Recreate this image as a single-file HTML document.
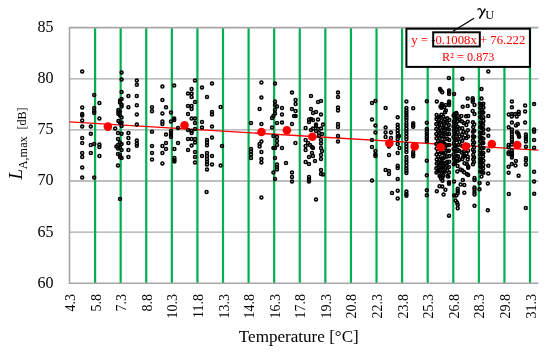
<!DOCTYPE html><html><head><meta charset="utf-8"><style>html,body{margin:0;padding:0;background:#fff;width:550px;height:353px;overflow:hidden}svg{display:block;will-change:transform}</style></head><body>
<svg width="550" height="353" viewBox="0 0 550 353" font-family="Liberation Serif, serif">
<path d="M69.50 232.10H538.4 M69.50 181.00H538.4 M69.50 129.90H538.4 M69.50 78.80H538.4" stroke="#a9a9a9" stroke-width="1.35" fill="none"/>
<path d="M95.09 27.60V283.20 M120.67 27.60V283.20 M146.25 27.60V283.20 M171.84 27.60V283.20 M197.43 27.60V283.20 M223.01 27.60V283.20 M248.59 27.60V283.20 M274.18 27.60V283.20 M299.76 27.60V283.20 M325.35 27.60V283.20 M350.94 27.60V283.20 M376.52 27.60V283.20 M402.11 27.60V283.20 M427.69 27.60V283.20 M453.28 27.60V283.20 M478.86 27.60V283.20 M504.44 27.60V283.20 M530.03 27.60V283.20" stroke="#00b050" stroke-width="2.2" fill="none"/>
<path d="M538.4 27.6H69.5V283.2H538.4" stroke="#a6a6a6" stroke-width="1.6" fill="none"/>
<line x1="69.5" y1="121.84" x2="538.4" y2="150.16" stroke="#ff0000" stroke-width="1.3"/>
<g fill="none" stroke="#000" stroke-width="1.6"><circle cx="82.2" cy="71.4" r="1.45"/><circle cx="121.6" cy="72.4" r="1.45"/><circle cx="121.6" cy="79.6" r="1.45"/><circle cx="136.8" cy="80.6" r="1.45"/><circle cx="136.8" cy="84.8" r="1.45"/><circle cx="162.4" cy="86.6" r="1.45"/><circle cx="174.2" cy="85.6" r="1.45"/><circle cx="94.2" cy="95.0" r="1.45"/><circle cx="121.6" cy="92.0" r="1.45"/><circle cx="128.4" cy="96.0" r="1.45"/><circle cx="136.8" cy="96.0" r="1.45"/><circle cx="121.6" cy="99.0" r="1.45"/><circle cx="120.0" cy="100.6" r="1.45"/><circle cx="120.0" cy="102.4" r="1.45"/><circle cx="121.6" cy="104.4" r="1.45"/><circle cx="121.6" cy="106.4" r="1.45"/><circle cx="99.4" cy="103.0" r="1.45"/><circle cx="162.4" cy="100.0" r="1.45"/><circle cx="82.2" cy="107.4" r="1.45"/><circle cx="94.2" cy="108.0" r="1.45"/><circle cx="94.2" cy="111.0" r="1.45"/><circle cx="94.2" cy="113.0" r="1.45"/><circle cx="128.4" cy="107.2" r="1.45"/><circle cx="136.8" cy="105.2" r="1.45"/><circle cx="152.0" cy="107.2" r="1.45"/><circle cx="152.0" cy="111.2" r="1.45"/><circle cx="166.0" cy="107.2" r="1.45"/><circle cx="162.4" cy="113.4" r="1.45"/><circle cx="171.0" cy="112.4" r="1.45"/><circle cx="82.2" cy="114.0" r="1.45"/><circle cx="82.2" cy="115.6" r="1.45"/><circle cx="82.2" cy="120.4" r="1.45"/><circle cx="118.4" cy="110.0" r="1.45"/><circle cx="118.4" cy="112.0" r="1.45"/><circle cx="118.4" cy="114.0" r="1.45"/><circle cx="120.0" cy="111.6" r="1.45"/><circle cx="120.0" cy="115.6" r="1.45"/><circle cx="121.6" cy="117.4" r="1.45"/><circle cx="99.4" cy="118.4" r="1.45"/><circle cx="136.8" cy="114.4" r="1.45"/><circle cx="162.4" cy="121.4" r="1.45"/><circle cx="162.4" cy="124.0" r="1.45"/><circle cx="171.0" cy="121.4" r="1.45"/><circle cx="174.2" cy="118.4" r="1.45"/><circle cx="174.2" cy="120.0" r="1.45"/><circle cx="118.4" cy="121.0" r="1.45"/><circle cx="120.0" cy="122.4" r="1.45"/><circle cx="121.6" cy="122.4" r="1.45"/><circle cx="82.2" cy="126.6" r="1.45"/><circle cx="90.8" cy="126.6" r="1.45"/><circle cx="115.2" cy="128.4" r="1.45"/><circle cx="121.6" cy="126.0" r="1.45"/><circle cx="136.8" cy="124.6" r="1.45"/><circle cx="178.0" cy="128.0" r="1.45"/><circle cx="90.8" cy="133.8" r="1.45"/><circle cx="118.0" cy="133.0" r="1.45"/><circle cx="121.6" cy="133.8" r="1.45"/><circle cx="128.4" cy="133.0" r="1.45"/><circle cx="152.0" cy="131.8" r="1.45"/><circle cx="166.0" cy="134.6" r="1.45"/><circle cx="171.0" cy="131.0" r="1.45"/><circle cx="171.0" cy="133.0" r="1.45"/><circle cx="171.0" cy="135.0" r="1.45"/><circle cx="171.0" cy="137.0" r="1.45"/><circle cx="82.2" cy="138.0" r="1.45"/><circle cx="82.2" cy="143.0" r="1.45"/><circle cx="118.0" cy="139.0" r="1.45"/><circle cx="128.4" cy="138.0" r="1.45"/><circle cx="136.8" cy="140.6" r="1.45"/><circle cx="136.8" cy="143.4" r="1.45"/><circle cx="136.8" cy="145.8" r="1.45"/><circle cx="90.8" cy="145.0" r="1.45"/><circle cx="94.2" cy="144.0" r="1.45"/><circle cx="99.4" cy="144.6" r="1.45"/><circle cx="99.4" cy="147.0" r="1.45"/><circle cx="120.0" cy="142.6" r="1.45"/><circle cx="118.0" cy="145.0" r="1.45"/><circle cx="116.4" cy="146.6" r="1.45"/><circle cx="121.6" cy="144.0" r="1.45"/><circle cx="120.0" cy="147.4" r="1.45"/><circle cx="118.0" cy="148.6" r="1.45"/><circle cx="121.6" cy="150.0" r="1.45"/><circle cx="128.4" cy="143.0" r="1.45"/><circle cx="152.0" cy="146.0" r="1.45"/><circle cx="162.4" cy="146.0" r="1.45"/><circle cx="166.0" cy="143.0" r="1.45"/><circle cx="178.0" cy="143.0" r="1.45"/><circle cx="166.0" cy="149.0" r="1.45"/><circle cx="174.4" cy="149.0" r="1.45"/><circle cx="82.2" cy="153.0" r="1.45"/><circle cx="82.2" cy="157.0" r="1.45"/><circle cx="90.8" cy="153.0" r="1.45"/><circle cx="99.4" cy="156.0" r="1.45"/><circle cx="118.0" cy="154.0" r="1.45"/><circle cx="120.0" cy="155.0" r="1.45"/><circle cx="120.0" cy="157.0" r="1.45"/><circle cx="121.6" cy="158.0" r="1.45"/><circle cx="128.4" cy="150.0" r="1.45"/><circle cx="128.4" cy="157.0" r="1.45"/><circle cx="152.0" cy="153.0" r="1.45"/><circle cx="152.0" cy="159.4" r="1.45"/><circle cx="162.4" cy="153.0" r="1.45"/><circle cx="174.4" cy="158.0" r="1.45"/><circle cx="174.4" cy="160.0" r="1.45"/><circle cx="174.4" cy="161.6" r="1.45"/><circle cx="162.4" cy="163.4" r="1.45"/><circle cx="118.0" cy="165.4" r="1.45"/><circle cx="82.2" cy="167.4" r="1.45"/><circle cx="82.2" cy="177.6" r="1.45"/><circle cx="94.2" cy="177.6" r="1.45"/><circle cx="120.0" cy="199.0" r="1.45"/><circle cx="195.0" cy="80.4" r="1.45"/><circle cx="191.6" cy="89.0" r="1.45"/><circle cx="202.0" cy="87.6" r="1.45"/><circle cx="212.0" cy="83.6" r="1.45"/><circle cx="188.0" cy="93.6" r="1.45"/><circle cx="191.6" cy="93.6" r="1.45"/><circle cx="191.6" cy="97.0" r="1.45"/><circle cx="207.0" cy="97.0" r="1.45"/><circle cx="195.0" cy="102.0" r="1.45"/><circle cx="188.0" cy="106.0" r="1.45"/><circle cx="191.6" cy="106.0" r="1.45"/><circle cx="191.6" cy="109.0" r="1.45"/><circle cx="220.6" cy="107.0" r="1.45"/><circle cx="212.0" cy="112.0" r="1.45"/><circle cx="212.0" cy="114.6" r="1.45"/><circle cx="188.0" cy="114.0" r="1.45"/><circle cx="191.6" cy="118.6" r="1.45"/><circle cx="195.0" cy="118.6" r="1.45"/><circle cx="195.0" cy="123.0" r="1.45"/><circle cx="202.0" cy="122.0" r="1.45"/><circle cx="261.4" cy="82.4" r="1.45"/><circle cx="275.0" cy="83.6" r="1.45"/><circle cx="261.4" cy="97.6" r="1.45"/><circle cx="259.6" cy="109.0" r="1.45"/><circle cx="275.0" cy="101.4" r="1.45"/><circle cx="275.0" cy="105.0" r="1.45"/><circle cx="277.0" cy="106.4" r="1.45"/><circle cx="282.0" cy="108.0" r="1.45"/><circle cx="275.0" cy="110.0" r="1.45"/><circle cx="275.0" cy="113.4" r="1.45"/><circle cx="282.0" cy="114.4" r="1.45"/><circle cx="273.4" cy="116.0" r="1.45"/><circle cx="272.0" cy="118.0" r="1.45"/><circle cx="251.0" cy="123.0" r="1.45"/><circle cx="261.4" cy="124.0" r="1.45"/><circle cx="277.0" cy="123.0" r="1.45"/><circle cx="282.0" cy="122.6" r="1.45"/><circle cx="202.0" cy="127.6" r="1.45"/><circle cx="212.0" cy="126.6" r="1.45"/><circle cx="188.0" cy="130.0" r="1.45"/><circle cx="191.6" cy="131.0" r="1.45"/><circle cx="195.0" cy="129.0" r="1.45"/><circle cx="191.6" cy="133.0" r="1.45"/><circle cx="188.0" cy="139.0" r="1.45"/><circle cx="191.6" cy="139.0" r="1.45"/><circle cx="195.0" cy="139.0" r="1.45"/><circle cx="195.0" cy="142.4" r="1.45"/><circle cx="191.6" cy="145.6" r="1.45"/><circle cx="207.0" cy="140.0" r="1.45"/><circle cx="207.0" cy="142.6" r="1.45"/><circle cx="207.0" cy="145.2" r="1.45"/><circle cx="212.0" cy="137.6" r="1.45"/><circle cx="188.0" cy="150.0" r="1.45"/><circle cx="195.0" cy="152.0" r="1.45"/><circle cx="222.0" cy="146.0" r="1.45"/><circle cx="207.0" cy="153.0" r="1.45"/><circle cx="207.0" cy="156.0" r="1.45"/><circle cx="207.0" cy="159.0" r="1.45"/><circle cx="207.0" cy="162.0" r="1.45"/><circle cx="207.0" cy="164.4" r="1.45"/><circle cx="202.0" cy="156.0" r="1.45"/><circle cx="212.0" cy="156.0" r="1.45"/><circle cx="195.0" cy="157.0" r="1.45"/><circle cx="195.0" cy="162.4" r="1.45"/><circle cx="212.0" cy="164.4" r="1.45"/><circle cx="207.0" cy="169.4" r="1.45"/><circle cx="220.6" cy="165.6" r="1.45"/><circle cx="272.0" cy="127.6" r="1.45"/><circle cx="273.4" cy="136.0" r="1.45"/><circle cx="277.0" cy="137.0" r="1.45"/><circle cx="261.4" cy="141.6" r="1.45"/><circle cx="259.6" cy="144.0" r="1.45"/><circle cx="259.6" cy="146.6" r="1.45"/><circle cx="277.0" cy="141.0" r="1.45"/><circle cx="277.0" cy="145.0" r="1.45"/><circle cx="282.0" cy="148.0" r="1.45"/><circle cx="273.4" cy="148.0" r="1.45"/><circle cx="275.0" cy="148.0" r="1.45"/><circle cx="251.0" cy="149.0" r="1.45"/><circle cx="251.0" cy="151.6" r="1.45"/><circle cx="251.0" cy="154.4" r="1.45"/><circle cx="251.0" cy="158.0" r="1.45"/><circle cx="261.4" cy="152.0" r="1.45"/><circle cx="261.4" cy="159.0" r="1.45"/><circle cx="261.4" cy="162.4" r="1.45"/><circle cx="275.0" cy="158.0" r="1.45"/><circle cx="277.0" cy="164.4" r="1.45"/><circle cx="277.0" cy="167.0" r="1.45"/><circle cx="277.0" cy="169.6" r="1.45"/><circle cx="273.4" cy="172.6" r="1.45"/><circle cx="275.0" cy="179.0" r="1.45"/><circle cx="206.6" cy="192.0" r="1.45"/><circle cx="261.4" cy="197.4" r="1.45"/><circle cx="292.0" cy="92.6" r="1.45"/><circle cx="295.6" cy="100.0" r="1.45"/><circle cx="295.6" cy="104.0" r="1.45"/><circle cx="292.0" cy="109.0" r="1.45"/><circle cx="295.6" cy="111.0" r="1.45"/><circle cx="294.0" cy="116.0" r="1.45"/><circle cx="295.6" cy="116.0" r="1.45"/><circle cx="311.0" cy="96.0" r="1.45"/><circle cx="318.0" cy="102.0" r="1.45"/><circle cx="321.0" cy="101.0" r="1.45"/><circle cx="311.0" cy="109.0" r="1.45"/><circle cx="313.0" cy="113.0" r="1.45"/><circle cx="316.0" cy="112.0" r="1.45"/><circle cx="321.0" cy="114.4" r="1.45"/><circle cx="309.0" cy="119.4" r="1.45"/><circle cx="311.0" cy="119.0" r="1.45"/><circle cx="313.0" cy="120.0" r="1.45"/><circle cx="309.0" cy="122.0" r="1.45"/><circle cx="318.0" cy="119.4" r="1.45"/><circle cx="292.0" cy="124.0" r="1.45"/><circle cx="316.0" cy="124.6" r="1.45"/><circle cx="323.0" cy="124.6" r="1.45"/><circle cx="338.0" cy="92.6" r="1.45"/><circle cx="338.0" cy="97.0" r="1.45"/><circle cx="338.0" cy="107.4" r="1.45"/><circle cx="338.0" cy="110.4" r="1.45"/><circle cx="338.0" cy="124.0" r="1.45"/><circle cx="372.0" cy="103.0" r="1.45"/><circle cx="375.4" cy="101.0" r="1.45"/><circle cx="385.6" cy="108.0" r="1.45"/><circle cx="372.0" cy="119.4" r="1.45"/><circle cx="338.0" cy="127.0" r="1.45"/><circle cx="305.6" cy="128.0" r="1.45"/><circle cx="311.0" cy="130.0" r="1.45"/><circle cx="313.0" cy="128.4" r="1.45"/><circle cx="316.0" cy="126.0" r="1.45"/><circle cx="318.0" cy="129.0" r="1.45"/><circle cx="321.0" cy="128.4" r="1.45"/><circle cx="316.0" cy="131.0" r="1.45"/><circle cx="319.0" cy="133.0" r="1.45"/><circle cx="322.0" cy="134.0" r="1.45"/><circle cx="319.0" cy="136.0" r="1.45"/><circle cx="338.0" cy="136.0" r="1.45"/><circle cx="295.4" cy="143.0" r="1.45"/><circle cx="305.6" cy="140.0" r="1.45"/><circle cx="308.0" cy="143.0" r="1.45"/><circle cx="310.0" cy="145.0" r="1.45"/><circle cx="305.6" cy="146.0" r="1.45"/><circle cx="305.6" cy="150.0" r="1.45"/><circle cx="312.0" cy="147.0" r="1.45"/><circle cx="313.0" cy="148.0" r="1.45"/><circle cx="321.0" cy="140.0" r="1.45"/><circle cx="321.0" cy="143.6" r="1.45"/><circle cx="338.0" cy="141.6" r="1.45"/><circle cx="321.0" cy="148.0" r="1.45"/><circle cx="312.0" cy="153.0" r="1.45"/><circle cx="313.0" cy="156.0" r="1.45"/><circle cx="309.0" cy="157.0" r="1.45"/><circle cx="322.0" cy="151.0" r="1.45"/><circle cx="321.0" cy="155.0" r="1.45"/><circle cx="321.0" cy="159.0" r="1.45"/><circle cx="315.0" cy="161.0" r="1.45"/><circle cx="305.6" cy="162.0" r="1.45"/><circle cx="309.0" cy="164.0" r="1.45"/><circle cx="286.0" cy="163.0" r="1.45"/><circle cx="292.0" cy="172.4" r="1.45"/><circle cx="292.0" cy="177.0" r="1.45"/><circle cx="292.0" cy="181.6" r="1.45"/><circle cx="321.0" cy="170.0" r="1.45"/><circle cx="321.0" cy="174.0" r="1.45"/><circle cx="323.0" cy="174.4" r="1.45"/><circle cx="309.0" cy="177.0" r="1.45"/><circle cx="309.0" cy="179.6" r="1.45"/><circle cx="309.0" cy="181.6" r="1.45"/><circle cx="375.4" cy="125.6" r="1.45"/><circle cx="375.4" cy="132.4" r="1.45"/><circle cx="372.0" cy="140.0" r="1.45"/><circle cx="372.0" cy="147.0" r="1.45"/><circle cx="375.4" cy="151.0" r="1.45"/><circle cx="375.4" cy="156.0" r="1.45"/><circle cx="375.4" cy="154.4" r="1.45"/><circle cx="372.0" cy="180.4" r="1.45"/><circle cx="385.6" cy="127.6" r="1.45"/><circle cx="385.6" cy="132.4" r="1.45"/><circle cx="391.0" cy="132.4" r="1.45"/><circle cx="385.6" cy="137.0" r="1.45"/><circle cx="391.0" cy="138.0" r="1.45"/><circle cx="389.0" cy="146.4" r="1.45"/><circle cx="389.0" cy="155.0" r="1.45"/><circle cx="385.6" cy="170.0" r="1.45"/><circle cx="389.0" cy="171.0" r="1.45"/><circle cx="389.0" cy="174.0" r="1.45"/><circle cx="316.0" cy="199.4" r="1.45"/><circle cx="392.0" cy="193.0" r="1.45"/><circle cx="406.4" cy="101.4" r="1.45"/><circle cx="413.2" cy="108.2" r="1.45"/><circle cx="426.8" cy="101.2" r="1.45"/><circle cx="397.7" cy="117.3" r="1.45"/><circle cx="397.7" cy="124.8" r="1.45"/><circle cx="397.7" cy="127.6" r="1.45"/><circle cx="397.7" cy="130.5" r="1.45"/><circle cx="397.7" cy="133.3" r="1.45"/><circle cx="397.7" cy="136.2" r="1.45"/><circle cx="397.7" cy="139.0" r="1.45"/><circle cx="399.0" cy="135.9" r="1.45"/><circle cx="406.4" cy="108.0" r="1.45"/><circle cx="406.4" cy="110.4" r="1.45"/><circle cx="406.4" cy="112.8" r="1.45"/><circle cx="406.4" cy="115.2" r="1.45"/><circle cx="406.4" cy="117.6" r="1.45"/><circle cx="406.4" cy="120.0" r="1.45"/><circle cx="406.4" cy="123.2" r="1.45"/><circle cx="406.4" cy="125.8" r="1.45"/><circle cx="406.4" cy="128.5" r="1.45"/><circle cx="406.4" cy="131.1" r="1.45"/><circle cx="406.4" cy="133.7" r="1.45"/><circle cx="406.4" cy="136.4" r="1.45"/><circle cx="406.4" cy="139.0" r="1.45"/><circle cx="406.4" cy="143.8" r="1.45"/><circle cx="406.4" cy="146.6" r="1.45"/><circle cx="406.4" cy="149.3" r="1.45"/><circle cx="406.4" cy="152.1" r="1.45"/><circle cx="406.4" cy="157.1" r="1.45"/><circle cx="406.4" cy="159.9" r="1.45"/><circle cx="406.4" cy="162.6" r="1.45"/><circle cx="406.4" cy="165.4" r="1.45"/><circle cx="406.4" cy="168.2" r="1.45"/><circle cx="406.4" cy="170.7" r="1.45"/><circle cx="406.4" cy="173.0" r="1.45"/><circle cx="413.2" cy="123.2" r="1.45"/><circle cx="413.2" cy="125.0" r="1.45"/><circle cx="413.2" cy="126.8" r="1.45"/><circle cx="426.8" cy="122.7" r="1.45"/><circle cx="426.8" cy="129.1" r="1.45"/><circle cx="426.8" cy="131.5" r="1.45"/><circle cx="426.8" cy="133.9" r="1.45"/><circle cx="426.8" cy="136.4" r="1.45"/><circle cx="426.8" cy="138.8" r="1.45"/><circle cx="426.8" cy="141.2" r="1.45"/><circle cx="397.7" cy="143.9" r="1.45"/><circle cx="399.5" cy="148.0" r="1.45"/><circle cx="397.7" cy="153.0" r="1.45"/><circle cx="397.7" cy="165.7" r="1.45"/><circle cx="397.7" cy="168.0" r="1.45"/><circle cx="413.2" cy="152.1" r="1.45"/><circle cx="413.2" cy="154.4" r="1.45"/><circle cx="413.2" cy="156.2" r="1.45"/><circle cx="426.8" cy="160.7" r="1.45"/><circle cx="397.7" cy="178.9" r="1.45"/><circle cx="426.8" cy="175.3" r="1.45"/><circle cx="397.7" cy="190.7" r="1.45"/><circle cx="397.7" cy="198.5" r="1.45"/><circle cx="406.4" cy="191.6" r="1.45"/><circle cx="406.4" cy="193.9" r="1.45"/><circle cx="406.4" cy="195.7" r="1.45"/><circle cx="426.8" cy="190.3" r="1.45"/><circle cx="426.8" cy="195.3" r="1.45"/><circle cx="436.8" cy="191.2" r="1.45"/><circle cx="439.5" cy="186.2" r="1.45"/><circle cx="488.3" cy="71.4" r="1.45"/><circle cx="448.9" cy="78.0" r="1.45"/><circle cx="462.4" cy="78.7" r="1.45"/><circle cx="481.5" cy="89.1" r="1.45"/><circle cx="440.0" cy="89.1" r="1.45"/><circle cx="440.9" cy="90.5" r="1.45"/><circle cx="442.3" cy="92.3" r="1.45"/><circle cx="449.1" cy="90.5" r="1.45"/><circle cx="449.1" cy="92.3" r="1.45"/><circle cx="449.1" cy="94.1" r="1.45"/><circle cx="454.1" cy="94.1" r="1.45"/><circle cx="436.8" cy="101.4" r="1.45"/><circle cx="449.1" cy="101.4" r="1.45"/><circle cx="449.1" cy="103.2" r="1.45"/><circle cx="449.1" cy="105.0" r="1.45"/><circle cx="441.8" cy="104.1" r="1.45"/><circle cx="440.5" cy="106.4" r="1.45"/><circle cx="442.7" cy="105.5" r="1.45"/><circle cx="441.4" cy="107.7" r="1.45"/><circle cx="444.1" cy="107.3" r="1.45"/><circle cx="445.9" cy="105.0" r="1.45"/><circle cx="445.9" cy="110.5" r="1.45"/><circle cx="445.0" cy="112.3" r="1.45"/><circle cx="467.7" cy="98.6" r="1.45"/><circle cx="472.7" cy="98.2" r="1.45"/><circle cx="472.7" cy="100.0" r="1.45"/><circle cx="472.7" cy="101.8" r="1.45"/><circle cx="474.5" cy="105.0" r="1.45"/><circle cx="467.7" cy="105.9" r="1.45"/><circle cx="462.7" cy="106.8" r="1.45"/><circle cx="472.7" cy="110.9" r="1.45"/><circle cx="474.5" cy="114.1" r="1.45"/><circle cx="468.2" cy="115.9" r="1.45"/><circle cx="461.4" cy="115.9" r="1.45"/><circle cx="454.5" cy="114.1" r="1.45"/><circle cx="456.4" cy="113.6" r="1.45"/><circle cx="481.5" cy="98.6" r="1.45"/><circle cx="436.6" cy="114.9" r="1.45"/><circle cx="436.5" cy="119.1" r="1.45"/><circle cx="436.3" cy="123.9" r="1.45"/><circle cx="436.3" cy="129.0" r="1.45"/><circle cx="436.3" cy="134.0" r="1.45"/><circle cx="436.5" cy="138.2" r="1.45"/><circle cx="436.3" cy="144.0" r="1.45"/><circle cx="436.6" cy="148.5" r="1.45"/><circle cx="436.5" cy="154.6" r="1.45"/><circle cx="436.7" cy="159.4" r="1.45"/><circle cx="436.7" cy="163.5" r="1.45"/><circle cx="436.3" cy="168.2" r="1.45"/><circle cx="436.4" cy="172.4" r="1.45"/><circle cx="438.2" cy="117.6" r="1.45"/><circle cx="438.2" cy="122.4" r="1.45"/><circle cx="437.9" cy="126.6" r="1.45"/><circle cx="438.2" cy="131.0" r="1.45"/><circle cx="438.1" cy="136.0" r="1.45"/><circle cx="438.1" cy="141.2" r="1.45"/><circle cx="438.3" cy="145.9" r="1.45"/><circle cx="438.0" cy="151.4" r="1.45"/><circle cx="438.2" cy="156.7" r="1.45"/><circle cx="438.3" cy="162.6" r="1.45"/><circle cx="438.4" cy="167.3" r="1.45"/><circle cx="438.1" cy="171.5" r="1.45"/><circle cx="439.6" cy="117.0" r="1.45"/><circle cx="440.0" cy="122.5" r="1.45"/><circle cx="440.1" cy="127.8" r="1.45"/><circle cx="440.0" cy="132.5" r="1.45"/><circle cx="439.9" cy="137.8" r="1.45"/><circle cx="440.0" cy="142.8" r="1.45"/><circle cx="439.9" cy="148.8" r="1.45"/><circle cx="439.7" cy="154.3" r="1.45"/><circle cx="440.0" cy="159.8" r="1.45"/><circle cx="440.0" cy="166.0" r="1.45"/><circle cx="439.8" cy="170.7" r="1.45"/><circle cx="439.6" cy="176.1" r="1.45"/><circle cx="441.4" cy="114.7" r="1.45"/><circle cx="441.4" cy="120.4" r="1.45"/><circle cx="441.6" cy="125.0" r="1.45"/><circle cx="441.4" cy="130.9" r="1.45"/><circle cx="441.7" cy="135.9" r="1.45"/><circle cx="441.8" cy="141.8" r="1.45"/><circle cx="441.5" cy="147.7" r="1.45"/><circle cx="441.6" cy="152.6" r="1.45"/><circle cx="441.9" cy="158.6" r="1.45"/><circle cx="441.5" cy="162.9" r="1.45"/><circle cx="441.5" cy="167.4" r="1.45"/><circle cx="441.7" cy="172.5" r="1.45"/><circle cx="443.2" cy="116.6" r="1.45"/><circle cx="443.5" cy="121.8" r="1.45"/><circle cx="443.3" cy="127.4" r="1.45"/><circle cx="443.4" cy="132.7" r="1.45"/><circle cx="443.5" cy="136.8" r="1.45"/><circle cx="443.5" cy="142.6" r="1.45"/><circle cx="443.2" cy="148.3" r="1.45"/><circle cx="443.1" cy="153.2" r="1.45"/><circle cx="443.1" cy="158.6" r="1.45"/><circle cx="443.1" cy="162.7" r="1.45"/><circle cx="443.2" cy="167.1" r="1.45"/><circle cx="443.0" cy="171.2" r="1.45"/><circle cx="443.1" cy="175.5" r="1.45"/><circle cx="445.1" cy="119.4" r="1.45"/><circle cx="444.9" cy="123.7" r="1.45"/><circle cx="445.0" cy="128.5" r="1.45"/><circle cx="445.2" cy="132.8" r="1.45"/><circle cx="445.0" cy="139.0" r="1.45"/><circle cx="444.8" cy="144.0" r="1.45"/><circle cx="445.0" cy="148.3" r="1.45"/><circle cx="445.2" cy="152.8" r="1.45"/><circle cx="444.8" cy="157.2" r="1.45"/><circle cx="445.0" cy="163.3" r="1.45"/><circle cx="445.1" cy="167.6" r="1.45"/><circle cx="445.0" cy="171.7" r="1.45"/><circle cx="447.2" cy="118.3" r="1.45"/><circle cx="447.1" cy="123.1" r="1.45"/><circle cx="447.3" cy="128.8" r="1.45"/><circle cx="447.2" cy="134.5" r="1.45"/><circle cx="447.4" cy="139.0" r="1.45"/><circle cx="447.5" cy="145.2" r="1.45"/><circle cx="447.4" cy="151.0" r="1.45"/><circle cx="447.1" cy="156.6" r="1.45"/><circle cx="447.2" cy="161.7" r="1.45"/><circle cx="447.0" cy="165.8" r="1.45"/><circle cx="447.2" cy="170.4" r="1.45"/><circle cx="447.5" cy="175.9" r="1.45"/><circle cx="449.3" cy="120.1" r="1.45"/><circle cx="448.9" cy="124.9" r="1.45"/><circle cx="448.9" cy="129.4" r="1.45"/><circle cx="449.1" cy="133.9" r="1.45"/><circle cx="449.2" cy="139.9" r="1.45"/><circle cx="449.1" cy="144.9" r="1.45"/><circle cx="448.9" cy="150.7" r="1.45"/><circle cx="449.3" cy="156.1" r="1.45"/><circle cx="449.2" cy="161.8" r="1.45"/><circle cx="448.9" cy="166.9" r="1.45"/><circle cx="449.0" cy="172.6" r="1.45"/><circle cx="440.3" cy="175.7" r="1.45"/><circle cx="442.5" cy="177.2" r="1.45"/><circle cx="441.0" cy="178.6" r="1.45"/><circle cx="448.3" cy="176.5" r="1.45"/><circle cx="442.5" cy="180.8" r="1.45"/><circle cx="449.0" cy="182.3" r="1.45"/><circle cx="449.0" cy="183.7" r="1.45"/><circle cx="442.2" cy="186.6" r="1.45"/><circle cx="445.4" cy="189.8" r="1.45"/><circle cx="443.6" cy="194.6" r="1.45"/><circle cx="449.0" cy="215.7" r="1.45"/><circle cx="453.6" cy="115.6" r="1.45"/><circle cx="453.8" cy="122.0" r="1.45"/><circle cx="453.5" cy="126.5" r="1.45"/><circle cx="453.9" cy="131.1" r="1.45"/><circle cx="453.5" cy="137.1" r="1.45"/><circle cx="453.9" cy="143.2" r="1.45"/><circle cx="453.6" cy="149.0" r="1.45"/><circle cx="453.5" cy="154.4" r="1.45"/><circle cx="453.9" cy="158.7" r="1.45"/><circle cx="453.7" cy="164.3" r="1.45"/><circle cx="454.9" cy="118.7" r="1.45"/><circle cx="454.6" cy="123.4" r="1.45"/><circle cx="454.6" cy="128.2" r="1.45"/><circle cx="454.6" cy="133.8" r="1.45"/><circle cx="454.6" cy="138.9" r="1.45"/><circle cx="454.7" cy="145.2" r="1.45"/><circle cx="454.8" cy="150.5" r="1.45"/><circle cx="454.7" cy="156.8" r="1.45"/><circle cx="454.8" cy="163.1" r="1.45"/><circle cx="456.2" cy="113.1" r="1.45"/><circle cx="456.0" cy="117.7" r="1.45"/><circle cx="456.1" cy="123.8" r="1.45"/><circle cx="456.3" cy="129.1" r="1.45"/><circle cx="456.1" cy="134.5" r="1.45"/><circle cx="456.2" cy="139.9" r="1.45"/><circle cx="456.0" cy="145.9" r="1.45"/><circle cx="456.1" cy="151.4" r="1.45"/><circle cx="456.4" cy="156.3" r="1.45"/><circle cx="456.2" cy="161.6" r="1.45"/><circle cx="457.9" cy="115.9" r="1.45"/><circle cx="457.9" cy="121.2" r="1.45"/><circle cx="457.8" cy="127.0" r="1.45"/><circle cx="457.8" cy="132.5" r="1.45"/><circle cx="457.9" cy="138.8" r="1.45"/><circle cx="458.1" cy="145.0" r="1.45"/><circle cx="457.9" cy="149.8" r="1.45"/><circle cx="458.0" cy="156.2" r="1.45"/><circle cx="457.7" cy="160.7" r="1.45"/><circle cx="457.6" cy="165.9" r="1.45"/><circle cx="459.7" cy="120.0" r="1.45"/><circle cx="459.4" cy="128.6" r="1.45"/><circle cx="459.6" cy="136.5" r="1.45"/><circle cx="459.7" cy="142.0" r="1.45"/><circle cx="459.4" cy="150.9" r="1.45"/><circle cx="459.5" cy="159.7" r="1.45"/><circle cx="462.0" cy="121.5" r="1.45"/><circle cx="462.2" cy="128.2" r="1.45"/><circle cx="462.0" cy="134.6" r="1.45"/><circle cx="462.3" cy="140.8" r="1.45"/><circle cx="462.2" cy="145.9" r="1.45"/><circle cx="462.0" cy="152.7" r="1.45"/><circle cx="462.3" cy="159.0" r="1.45"/><circle cx="463.9" cy="122.9" r="1.45"/><circle cx="463.5" cy="131.8" r="1.45"/><circle cx="463.5" cy="137.8" r="1.45"/><circle cx="463.6" cy="145.9" r="1.45"/><circle cx="463.7" cy="151.4" r="1.45"/><circle cx="466.1" cy="116.3" r="1.45"/><circle cx="466.3" cy="125.0" r="1.45"/><circle cx="466.1" cy="132.8" r="1.45"/><circle cx="466.4" cy="138.0" r="1.45"/><circle cx="466.1" cy="144.7" r="1.45"/><circle cx="466.4" cy="153.5" r="1.45"/><circle cx="467.7" cy="121.7" r="1.45"/><circle cx="467.9" cy="130.2" r="1.45"/><circle cx="468.0" cy="136.5" r="1.45"/><circle cx="467.8" cy="145.2" r="1.45"/><circle cx="468.0" cy="150.7" r="1.45"/><circle cx="467.8" cy="156.7" r="1.45"/><circle cx="463.2" cy="156.8" r="1.45"/><circle cx="464.5" cy="155.9" r="1.45"/><circle cx="467.7" cy="159.5" r="1.45"/><circle cx="464.5" cy="163.2" r="1.45"/><circle cx="466.8" cy="164.1" r="1.45"/><circle cx="468.2" cy="166.4" r="1.45"/><circle cx="468.2" cy="167.7" r="1.45"/><circle cx="457.3" cy="171.4" r="1.45"/><circle cx="460.5" cy="169.5" r="1.45"/><circle cx="462.3" cy="170.5" r="1.45"/><circle cx="464.1" cy="172.3" r="1.45"/><circle cx="466.8" cy="174.1" r="1.45"/><circle cx="468.2" cy="175.0" r="1.45"/><circle cx="454.1" cy="181.5" r="1.45"/><circle cx="462.8" cy="180.1" r="1.45"/><circle cx="460.6" cy="184.5" r="1.45"/><circle cx="464.3" cy="184.9" r="1.45"/><circle cx="457.7" cy="188.8" r="1.45"/><circle cx="457.7" cy="191.0" r="1.45"/><circle cx="457.7" cy="193.2" r="1.45"/><circle cx="454.1" cy="195.4" r="1.45"/><circle cx="456.3" cy="195.4" r="1.45"/><circle cx="464.3" cy="192.7" r="1.45"/><circle cx="455.5" cy="200.5" r="1.45"/><circle cx="457.0" cy="202.6" r="1.45"/><circle cx="457.7" cy="204.8" r="1.45"/><circle cx="457.7" cy="208.2" r="1.45"/><circle cx="472.9" cy="122.3" r="1.45"/><circle cx="473.2" cy="127.1" r="1.45"/><circle cx="473.0" cy="131.8" r="1.45"/><circle cx="473.0" cy="136.2" r="1.45"/><circle cx="472.9" cy="140.3" r="1.45"/><circle cx="473.1" cy="144.3" r="1.45"/><circle cx="472.9" cy="149.7" r="1.45"/><circle cx="473.2" cy="154.9" r="1.45"/><circle cx="473.2" cy="159.2" r="1.45"/><circle cx="473.0" cy="164.2" r="1.45"/><circle cx="474.3" cy="124.3" r="1.45"/><circle cx="474.2" cy="130.7" r="1.45"/><circle cx="474.3" cy="136.8" r="1.45"/><circle cx="474.2" cy="142.4" r="1.45"/><circle cx="474.0" cy="147.3" r="1.45"/><circle cx="474.0" cy="151.6" r="1.45"/><circle cx="474.1" cy="157.5" r="1.45"/><circle cx="474.0" cy="161.9" r="1.45"/><circle cx="474.5" cy="177.9" r="1.45"/><circle cx="474.5" cy="180.1" r="1.45"/><circle cx="474.5" cy="187.4" r="1.45"/><circle cx="474.5" cy="189.5" r="1.45"/><circle cx="474.5" cy="192.2" r="1.45"/><circle cx="474.5" cy="194.6" r="1.45"/><circle cx="474.5" cy="205.8" r="1.45"/><circle cx="480.1" cy="103.8" r="1.45"/><circle cx="480.1" cy="107.8" r="1.45"/><circle cx="480.1" cy="112.4" r="1.45"/><circle cx="480.1" cy="116.9" r="1.45"/><circle cx="480.5" cy="122.4" r="1.45"/><circle cx="480.1" cy="127.1" r="1.45"/><circle cx="480.1" cy="132.6" r="1.45"/><circle cx="480.0" cy="136.9" r="1.45"/><circle cx="480.2" cy="141.3" r="1.45"/><circle cx="480.1" cy="145.9" r="1.45"/><circle cx="480.0" cy="150.5" r="1.45"/><circle cx="480.0" cy="154.6" r="1.45"/><circle cx="480.0" cy="159.0" r="1.45"/><circle cx="480.1" cy="162.7" r="1.45"/><circle cx="480.3" cy="166.7" r="1.45"/><circle cx="480.3" cy="171.4" r="1.45"/><circle cx="481.7" cy="104.9" r="1.45"/><circle cx="482.0" cy="109.2" r="1.45"/><circle cx="481.8" cy="113.1" r="1.45"/><circle cx="481.5" cy="118.0" r="1.45"/><circle cx="481.9" cy="123.2" r="1.45"/><circle cx="481.8" cy="128.1" r="1.45"/><circle cx="481.5" cy="133.3" r="1.45"/><circle cx="481.7" cy="138.0" r="1.45"/><circle cx="481.9" cy="143.2" r="1.45"/><circle cx="481.8" cy="148.5" r="1.45"/><circle cx="481.8" cy="153.9" r="1.45"/><circle cx="481.6" cy="158.9" r="1.45"/><circle cx="481.5" cy="162.5" r="1.45"/><circle cx="481.5" cy="166.8" r="1.45"/><circle cx="481.8" cy="172.1" r="1.45"/><circle cx="483.3" cy="103.8" r="1.45"/><circle cx="483.4" cy="107.4" r="1.45"/><circle cx="483.3" cy="112.5" r="1.45"/><circle cx="483.4" cy="117.2" r="1.45"/><circle cx="483.4" cy="120.9" r="1.45"/><circle cx="483.1" cy="125.0" r="1.45"/><circle cx="483.4" cy="129.2" r="1.45"/><circle cx="483.4" cy="133.2" r="1.45"/><circle cx="483.3" cy="138.7" r="1.45"/><circle cx="483.3" cy="143.1" r="1.45"/><circle cx="483.4" cy="148.0" r="1.45"/><circle cx="483.3" cy="152.9" r="1.45"/><circle cx="483.1" cy="156.6" r="1.45"/><circle cx="483.4" cy="160.7" r="1.45"/><circle cx="483.3" cy="165.0" r="1.45"/><circle cx="483.1" cy="168.6" r="1.45"/><circle cx="483.4" cy="172.7" r="1.45"/><circle cx="481.5" cy="176.5" r="1.45"/><circle cx="479.6" cy="182.9" r="1.45"/><circle cx="479.5" cy="189.3" r="1.45"/><circle cx="487.8" cy="183.4" r="1.45"/><circle cx="487.8" cy="210.3" r="1.45"/><circle cx="488.3" cy="115.9" r="1.45"/><circle cx="488.3" cy="129.5" r="1.45"/><circle cx="488.3" cy="135.8" r="1.45"/><circle cx="488.3" cy="150.4" r="1.45"/><circle cx="488.3" cy="165.8" r="1.45"/><circle cx="488.3" cy="173.5" r="1.45"/><circle cx="511.9" cy="101.4" r="1.45"/><circle cx="511.9" cy="107.3" r="1.45"/><circle cx="525.1" cy="105.5" r="1.45"/><circle cx="525.1" cy="111.4" r="1.45"/><circle cx="534.1" cy="104.1" r="1.45"/><circle cx="508.7" cy="114.5" r="1.45"/><circle cx="511.9" cy="114.1" r="1.45"/><circle cx="515.1" cy="114.1" r="1.45"/><circle cx="518.7" cy="111.8" r="1.45"/><circle cx="518.7" cy="114.1" r="1.45"/><circle cx="511.8" cy="116.4" r="1.45"/><circle cx="516.8" cy="116.4" r="1.45"/><circle cx="511.9" cy="122.6" r="1.45"/><circle cx="516.0" cy="125.4" r="1.45"/><circle cx="517.8" cy="124.0" r="1.45"/><circle cx="525.1" cy="122.6" r="1.45"/><circle cx="508.7" cy="127.2" r="1.45"/><circle cx="511.9" cy="129.5" r="1.45"/><circle cx="511.9" cy="132.0" r="1.45"/><circle cx="511.9" cy="134.5" r="1.45"/><circle cx="511.9" cy="137.0" r="1.45"/><circle cx="511.9" cy="139.5" r="1.45"/><circle cx="511.9" cy="142.0" r="1.45"/><circle cx="511.9" cy="144.5" r="1.45"/><circle cx="516.9" cy="132.2" r="1.45"/><circle cx="518.3" cy="133.5" r="1.45"/><circle cx="518.7" cy="135.4" r="1.45"/><circle cx="519.1" cy="136.8" r="1.45"/><circle cx="525.9" cy="134.5" r="1.45"/><circle cx="525.9" cy="136.8" r="1.45"/><circle cx="525.9" cy="139.1" r="1.45"/><circle cx="525.9" cy="141.4" r="1.45"/><circle cx="525.9" cy="146.8" r="1.45"/><circle cx="534.1" cy="129.5" r="1.45"/><circle cx="534.1" cy="131.8" r="1.45"/><circle cx="534.1" cy="140.0" r="1.45"/><circle cx="534.1" cy="147.7" r="1.45"/><circle cx="508.6" cy="145.0" r="1.45"/><circle cx="508.6" cy="147.3" r="1.45"/><circle cx="508.6" cy="152.3" r="1.45"/><circle cx="511.8" cy="150.5" r="1.45"/><circle cx="511.8" cy="152.7" r="1.45"/><circle cx="508.6" cy="154.1" r="1.45"/><circle cx="511.9" cy="154.0" r="1.45"/><circle cx="511.9" cy="157.6" r="1.45"/><circle cx="511.8" cy="155.5" r="1.45"/><circle cx="515.9" cy="160.9" r="1.45"/><circle cx="511.8" cy="164.1" r="1.45"/><circle cx="515.5" cy="165.5" r="1.45"/><circle cx="508.6" cy="166.8" r="1.45"/><circle cx="525.9" cy="158.2" r="1.45"/><circle cx="525.9" cy="160.5" r="1.45"/><circle cx="525.9" cy="164.5" r="1.45"/><circle cx="508.6" cy="172.7" r="1.45"/><circle cx="518.6" cy="175.7" r="1.45"/><circle cx="534.1" cy="171.8" r="1.45"/><circle cx="534.1" cy="181.4" r="1.45"/><circle cx="508.8" cy="194.0" r="1.45"/><circle cx="534.2" cy="193.8" r="1.45"/><circle cx="525.8" cy="208.0" r="1.45"/></g>
<g fill="#ff0000"><circle cx="107.9" cy="126.6" r="4.3"/><circle cx="184.5" cy="125.3" r="4.3"/><circle cx="261.5" cy="132.0" r="4.3"/><circle cx="286.9" cy="130.2" r="4.3"/><circle cx="312.4" cy="136.7" r="4.3"/><circle cx="389.3" cy="143.2" r="4.3"/><circle cx="414.7" cy="146.4" r="4.3"/><circle cx="440.7" cy="147.3" r="4.3"/><circle cx="465.8" cy="146.5" r="4.3"/><circle cx="491.8" cy="144.1" r="4.3"/><circle cx="517.3" cy="145.0" r="4.3"/></g>
<text x="53.6" y="287.6" font-size="16" text-anchor="end" fill="#000">60</text>
<text x="53.6" y="236.5" font-size="16" text-anchor="end" fill="#000">65</text>
<text x="53.6" y="185.4" font-size="16" text-anchor="end" fill="#000">70</text>
<text x="53.6" y="134.3" font-size="16" text-anchor="end" fill="#000">75</text>
<text x="53.6" y="83.2" font-size="16" text-anchor="end" fill="#000">80</text>
<text x="53.6" y="32.1" font-size="16" text-anchor="end" fill="#000">85</text>
<text transform="translate(75.00,293.9) rotate(-90)" font-size="14" text-anchor="end" fill="#000">4.3</text>
<text transform="translate(100.59,293.9) rotate(-90)" font-size="14" text-anchor="end" fill="#000">5.8</text>
<text transform="translate(126.17,293.9) rotate(-90)" font-size="14" text-anchor="end" fill="#000">7.3</text>
<text transform="translate(151.75,293.9) rotate(-90)" font-size="14" text-anchor="end" fill="#000">8.8</text>
<text transform="translate(177.34,293.9) rotate(-90)" font-size="14" text-anchor="end" fill="#000">10.3</text>
<text transform="translate(202.93,293.9) rotate(-90)" font-size="14" text-anchor="end" fill="#000">11.8</text>
<text transform="translate(228.51,293.9) rotate(-90)" font-size="14" text-anchor="end" fill="#000">13.3</text>
<text transform="translate(254.09,293.9) rotate(-90)" font-size="14" text-anchor="end" fill="#000">14.8</text>
<text transform="translate(279.68,293.9) rotate(-90)" font-size="14" text-anchor="end" fill="#000">16.3</text>
<text transform="translate(305.26,293.9) rotate(-90)" font-size="14" text-anchor="end" fill="#000">17.8</text>
<text transform="translate(330.85,293.9) rotate(-90)" font-size="14" text-anchor="end" fill="#000">19.3</text>
<text transform="translate(356.44,293.9) rotate(-90)" font-size="14" text-anchor="end" fill="#000">20.8</text>
<text transform="translate(382.02,293.9) rotate(-90)" font-size="14" text-anchor="end" fill="#000">22.3</text>
<text transform="translate(407.61,293.9) rotate(-90)" font-size="14" text-anchor="end" fill="#000">23.8</text>
<text transform="translate(433.19,293.9) rotate(-90)" font-size="14" text-anchor="end" fill="#000">25.3</text>
<text transform="translate(458.78,293.9) rotate(-90)" font-size="14" text-anchor="end" fill="#000">26.8</text>
<text transform="translate(484.36,293.9) rotate(-90)" font-size="14" text-anchor="end" fill="#000">28.3</text>
<text transform="translate(509.94,293.9) rotate(-90)" font-size="14" text-anchor="end" fill="#000">29.8</text>
<text transform="translate(535.53,293.9) rotate(-90)" font-size="14" text-anchor="end" fill="#000">31.3</text>
<text x="238.8" y="341.8" font-size="16.6" textLength="120" lengthAdjust="spacingAndGlyphs" fill="#000">Temperature [°C]</text>
<text transform="translate(22,179.6) rotate(-90)" font-style="italic" font-size="19" fill="#000">L</text>
<text transform="translate(26.5,169.3) rotate(-90)" font-size="12" textLength="33" lengthAdjust="spacingAndGlyphs" fill="#000">A,max</text>
<text transform="translate(26.3,129.6) rotate(-90)" font-size="12.2" textLength="22" lengthAdjust="spacingAndGlyphs" fill="#000">[dB]</text>
<rect x="406.4" y="28.7" width="123.5" height="38.2" fill="#fff" stroke="#000" stroke-width="2"/>
<text x="411.3" y="44.2" font-size="12.8" textLength="114" lengthAdjust="spacingAndGlyphs" fill="#ff0000">y = -0.1008x + 76.222</text>
<text x="442.1" y="61.2" font-size="12.4" textLength="52.4" lengthAdjust="spacingAndGlyphs" fill="#ff0000">R² = 0.873</text>
<rect x="433.2" y="32.3" width="46.6" height="14.2" fill="none" stroke="#000" stroke-width="2"/>
<line x1="453" y1="31.3" x2="474" y2="18.2" stroke="#000" stroke-width="1.3"/>
<path d="M485.3 8.7L479.4 18.5" stroke="#000" stroke-width="1.5" fill="none"/><path d="M477.6 10.2C478.4 8.3 480.1 8.1 480.9 9.8L482.6 14.6" stroke="#000" stroke-width="1.1" fill="none"/>
<text x="485.2" y="19.3" font-size="12.5" fill="#000">U</text>
</svg></body></html>
